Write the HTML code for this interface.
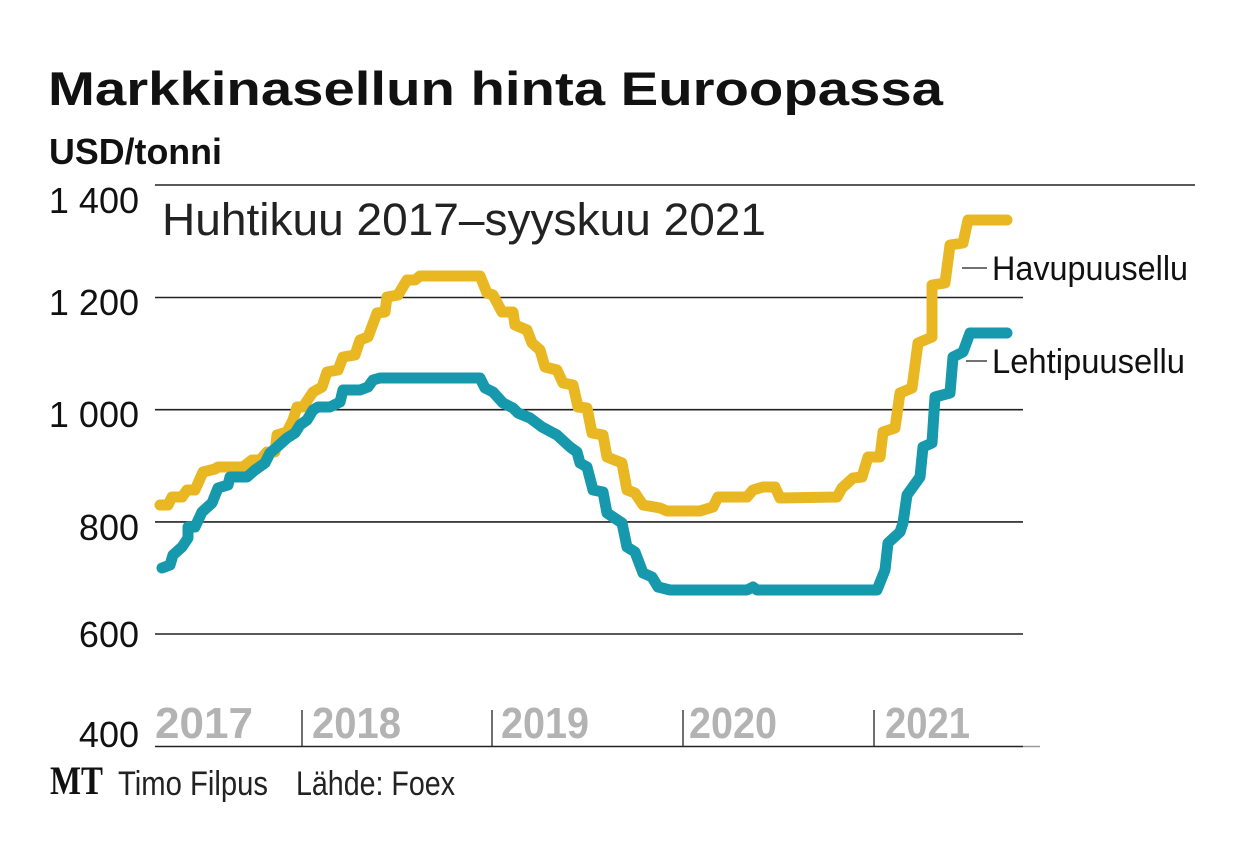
<!DOCTYPE html>
<html>
<head>
<meta charset="utf-8">
<style>
html,body{margin:0;padding:0;background:#fff;}
svg{display:block;}
text{font-family:"Liberation Sans",sans-serif;}
</style>
</head>
<body>
<svg width="1240" height="854" viewBox="0 0 1240 854" xmlns="http://www.w3.org/2000/svg">
<rect width="1240" height="854" fill="#fff"/>
<!-- Title -->
<text x="48" y="105" font-size="47" font-weight="bold" fill="#111" textLength="895" lengthAdjust="spacingAndGlyphs">Markkinasellun hinta Euroopassa</text>
<text x="49" y="164" font-size="36" font-weight="bold" fill="#111" textLength="173" lengthAdjust="spacingAndGlyphs">USD/tonni</text>

<!-- Gridlines -->
<g stroke="#222" stroke-width="1.6">
<line x1="155" y1="185" x2="1195" y2="185"/>
<line x1="155" y1="297.5" x2="1023" y2="297.5"/>
<line x1="155" y1="409.7" x2="1023" y2="409.7"/>
<line x1="155" y1="521.9" x2="1023" y2="521.9"/>
<line x1="155" y1="634" x2="1023" y2="634"/>
<line x1="155" y1="746.5" x2="1023" y2="746.5"/>
</g>
<line x1="1023" y1="746.5" x2="1040" y2="746.5" stroke="#999" stroke-width="1.4"/>

<!-- Year separators -->
<g stroke="#333" stroke-width="1.4">
<line x1="302" y1="710" x2="302" y2="746"/>
<line x1="492" y1="710" x2="492" y2="746"/>
<line x1="683" y1="710" x2="683" y2="746"/>
<line x1="874" y1="710" x2="874" y2="746"/>
</g>

<!-- Year labels -->
<g font-size="44" font-weight="bold" fill="#b3b3b3">
<text x="155" y="738" textLength="98" lengthAdjust="spacingAndGlyphs">2017</text>
<text x="312" y="738" textLength="89" lengthAdjust="spacingAndGlyphs">2018</text>
<text x="501" y="738" textLength="88" lengthAdjust="spacingAndGlyphs">2019</text>
<text x="689" y="738" textLength="88" lengthAdjust="spacingAndGlyphs">2020</text>
<text x="885" y="738" textLength="85" lengthAdjust="spacingAndGlyphs">2021</text>
</g>

<!-- Y labels -->
<g font-size="36" fill="#111" text-anchor="end">
<text x="139" y="213">1 400</text>
<text x="139" y="315">1 200</text>
<text x="139" y="427">1 000</text>
<text x="139" y="540">800</text>
<text x="139" y="647">600</text>
<text x="139" y="747">400</text>
</g>

<!-- Subtitle -->
<text x="162" y="235" font-size="45" fill="#222" textLength="604" lengthAdjust="spacingAndGlyphs">Huhtikuu 2017–syyskuu 2021</text>

<!-- Series -->
<polyline fill="none" stroke="#E8B722" stroke-width="11" stroke-linejoin="round" stroke-linecap="round"
points="160,505 168,505 172,497 182,497 187,490 195,490 203,472 215,469 218,467 243,467 252,460 260,460 267,452 275,452 277,435 287,432 293,420 297,407 303,407 313,392 322,387 327,372 338,370 343,357 355,355 360,340 368,337 377,313 385,312 387,297 398,295 407,280 415,280 420,276 480,276 487,293 493,295 502,312 513,312 515,325 527,330 532,343 540,350 545,367 557,370 563,383 573,385 578,407 587,408 592,433 603,435 607,457 622,463 627,490 635,493 643,505 660,508 667,511 700,511 713,507 718,497 747,497 753,490 763,487 775,487 780,498 837,497 842,488 853,478 862,477 868,457 880,457 883,432 895,428 900,393 912,388 918,343 932,337 932,285 945,283 950,245 963,243 968,220 1007,220"/>
<polyline fill="none" stroke="#1699AC" stroke-width="11" stroke-linejoin="round" stroke-linecap="round"
points="162,568 170,565 173,555 182,547 188,538 188,527 195,527 202,512 212,503 218,488 228,485 230,477 247,477 255,470 265,463 270,453 277,447 287,438 295,433 300,425 307,420 313,410 318,407 330,407 340,402 343,390 360,390 368,387 373,380 380,378 480,378 485,388 493,392 503,403 513,408 518,413 530,418 542,427 557,435 570,447 577,452 580,463 587,467 593,490 603,492 607,513 622,523 627,547 635,552 643,573 652,577 658,587 670,590 747,590 753,587 757,590 877,590 885,570 888,543 900,532 903,523 907,495 920,477 923,447 932,443 935,397 950,393 953,357 963,352 970,333 1007,333"/>

<!-- Legend -->
<g stroke="#444" stroke-width="1.4">
<line x1="962" y1="268" x2="987" y2="268"/>
<line x1="966" y1="361" x2="987" y2="361"/>
</g>
<text x="992" y="280" font-size="34" fill="#111" textLength="196" lengthAdjust="spacingAndGlyphs">Havupuusellu</text>
<text x="992" y="373" font-size="34" fill="#111" textLength="193" lengthAdjust="spacingAndGlyphs">Lehtipuusellu</text>

<!-- Footer -->
<text x="50" y="794" font-size="40" font-weight="bold" fill="#111" textLength="53" lengthAdjust="spacingAndGlyphs" style="font-family:'Liberation Serif',serif">MT</text>
<text x="118" y="795" font-size="34" fill="#222" textLength="150" lengthAdjust="spacingAndGlyphs">Timo Filpus</text>
<text x="296" y="795" font-size="34" fill="#222" textLength="159" lengthAdjust="spacingAndGlyphs">Lähde: Foex</text>
</svg>
</body>
</html>
